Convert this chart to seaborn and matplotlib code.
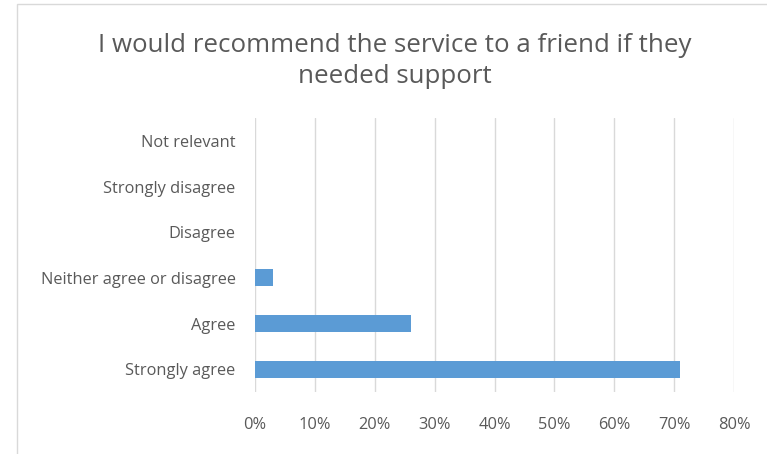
import matplotlib
matplotlib.use("Agg")
import matplotlib.pyplot as plt
import seaborn as sns
import pandas as pd
from matplotlib.ticker import PercentFormatter
from matplotlib.patches import Rectangle

categories = ["Not relevant", "Strongly disagree", "Disagree",
              "Neither agree or disagree", "Agree", "Strongly agree"]
values = [0, 0, 0, 3, 26, 71]
x_ticks = [0, 10, 20, 30, 40, 50, 60, 70, 80]
title = "I would recommend the service to a friend if they\nneeded support"

sns.set_theme(style="white")
plt.rcParams["font.family"] = ["Open Sans", "DejaVu Sans"]

TEXT = "#595959"
GRID = "#d9d9d9"
BAR = "#5b9bd5"

df = pd.DataFrame({"category": categories, "value": values})

fig = plt.figure(figsize=(7.67, 4.54), dpi=100)
ax = fig.add_axes([255 / 767, 1 - 392 / 454, (734 - 255) / 767, (392 - 118) / 454])

sns.barplot(data=df, y="category", x="value", order=categories,
            color=BAR, saturation=1, width=0.37, linewidth=0, ax=ax)

ax.set_xlim(0, 80)
ax.set_xticks(x_ticks)
ax.xaxis.set_major_formatter(PercentFormatter(decimals=0))
ax.grid(axis="x", color=GRID, linewidth=1)
ax.set_axisbelow(True)
for s in ax.spines.values():
    s.set_visible(False)
ax.set_xlabel("")
ax.set_ylabel("")
ax.tick_params(axis="x", length=0, pad=18, labelsize=11.8, labelcolor=TEXT)
ax.tick_params(axis="y", length=0, pad=14, labelsize=11.8, labelcolor=TEXT)

fig.text(395 / 767, 1 - 61 / 454, title, ha="center", va="center",
         fontsize=18.6, color=TEXT, linespacing=1.3)

fig.patches.append(Rectangle((17 / 767, -0.1), 1.2, 1 - 4 / 454 + 0.1,
                             transform=fig.transFigure, fill=False,
                             edgecolor=GRID, linewidth=1))

fig.savefig("out.png", dpi=100)
